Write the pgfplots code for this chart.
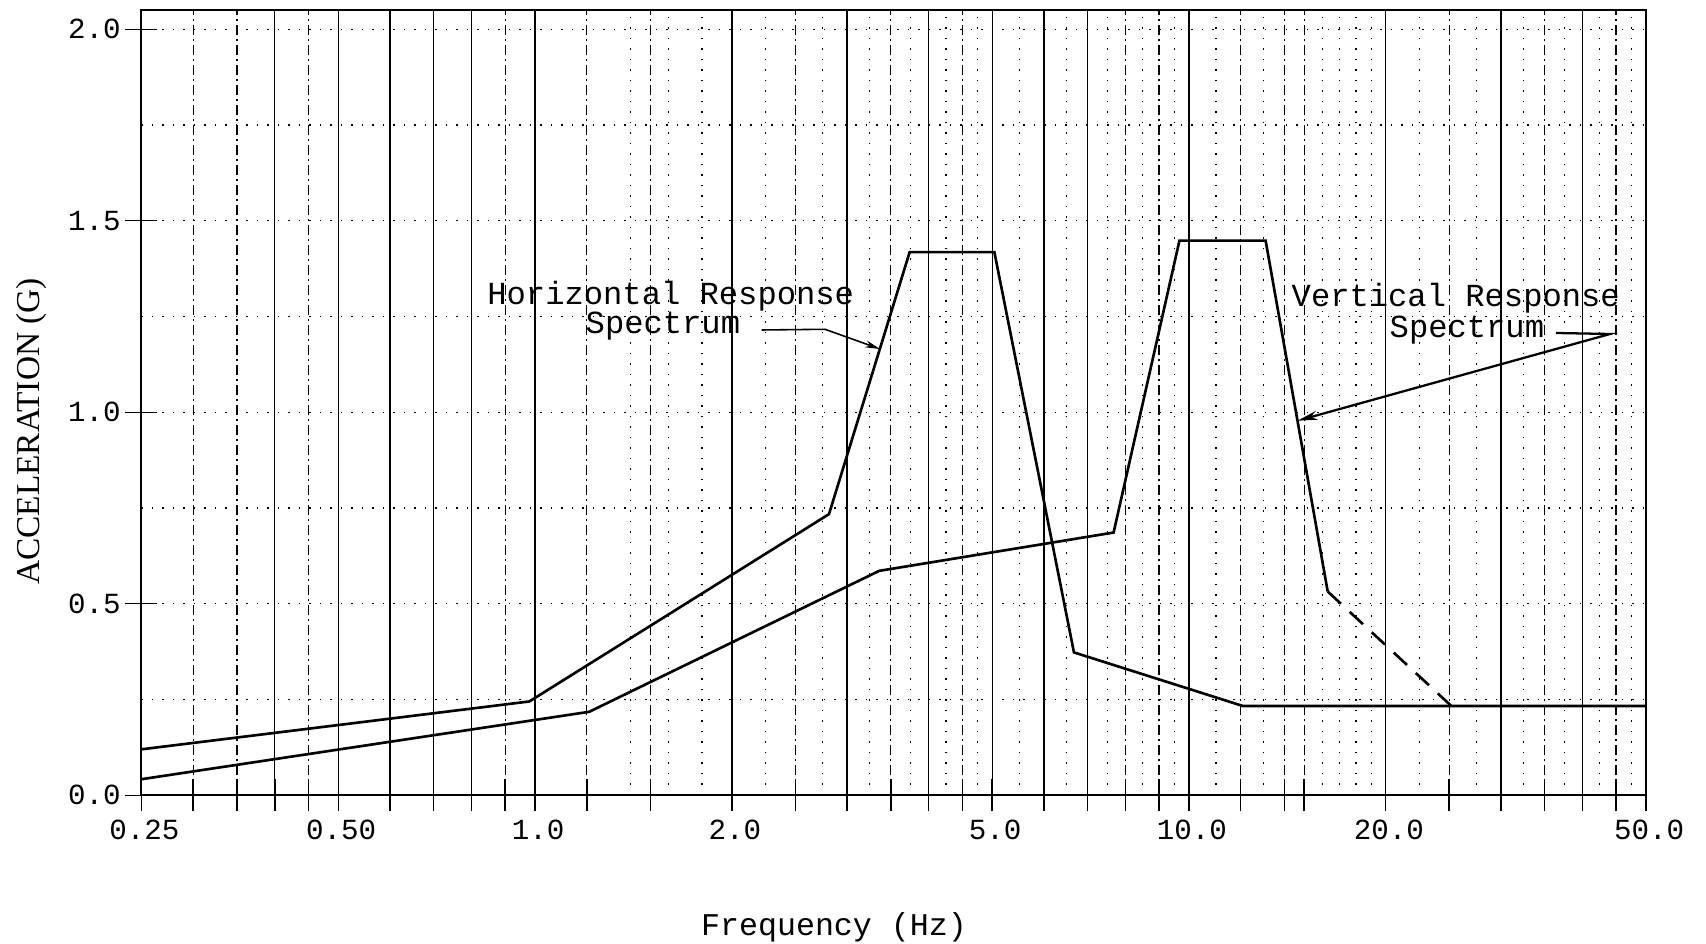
\documentclass[border=0pt]{standalone}
\usepackage{fontspec}
\setmainfont{Liberation Serif}
\newfontfamily\mono{Liberation Mono}
\usepackage{pgfplots}
\pgfplotsset{compat=1.18}
\usetikzlibrary{arrows.meta}

\begin{document}
\begin{tikzpicture}
\useasboundingbox (0,0) rectangle (17.06,9.44);
% ---- texture grid of the graph paper (dotted) ----
\begin{axis}[at={(1.414cm,1.487cm)}, anchor=south west, scale only axis,
  width=15.046cm, height=7.852cm,
  xmode=log, xmin=0.25, xmax=50, ymin=0, ymax=2.05,
  axis line style={draw=none}, major tick length=0pt, minor tick length=0pt,
  xtick={1.4,1.6,1.8,2.25,2.75,3.25,3.75,4.25,4.75,5.5,6.5,7.5,8.5,9.5,11,13,16,17,18,19,22.5,27.5,32.5,37.5,42.5,47.5},
  ytick={0.25,0.5,0.75,1.0,1.25,1.5,1.75,2.0},
  xticklabels={}, yticklabels={},
  xmajorgrids, ymajorgrids,
  major grid style={black, line width=0.35pt, dash pattern=on 0.015cm off 0.09cm},
]
\end{axis}
% ---- main axis ----
\begin{axis}[at={(1.414cm,1.487cm)}, anchor=south west, scale only axis,
  width=15.046cm, height=7.852cm,
  xmode=log, xmin=0.25, xmax=50, ymin=0, ymax=2.05,
  axis line style={black, line width=0.6pt},
  tick pos=left, tick align=center,
  major tick length=0.32cm, minor tick length=0.32cm,
  tick style={black, line width=0.4pt},
  xtick={0.25,0.5,1,2,5,10,20,50},
  xticklabels={0.25,0.50,1.0,2.0,5.0,10.0,20.0,50.0},
  minor xtick={0.4,0.6,0.7,0.8,3,4,6,7,30,40},
  extra x ticks={0.3,0.35,0.45,0.9,1.2,1.5,2.5,3.5,4.5,8,9,12,14,15,25,35,45},
  extra x tick labels={},
  extra x tick style={xmajorgrids=true, major grid style={black, line width=0.35pt, dash pattern=on 0.1cm off 0.04cm on 0.02cm off 0.04cm}},
  xmajorgrids, xminorgrids,
  major grid style={black, line width=0.35pt},
  minor grid style={black, line width=0.35pt},
  ytick={0,0.5,1,1.5,2},
  yticklabels={0.0,0.5,1.0,1.5,2.0},
  tick label style={font=\mono\fontsize{8.3}{10}\selectfont},
  xticklabel style={anchor=base, yshift=-0.28cm, xshift=0.03cm},
  yticklabel style={anchor=east, xshift=0.075cm},
]
% Horizontal response spectrum
\addplot[black, line width=0.75pt] coordinates {
  (0.25,0.120) (0.98,0.245) (2.815,0.734) (3.74,1.418) (5.04,1.418)
  (6.67,0.373) (12.1,0.233) (50,0.233)};
% Vertical response spectrum
\addplot[black, line width=0.75pt] coordinates {
  (0.25,0.042) (1.21,0.218) (3.36,0.586) (7.67,0.686) (9.67,1.448)
  (13.1,1.448) (16.3,0.532)};
\addplot[black, line width=0.75pt, dash pattern=on 0.18cm off 0.12cm] coordinates {
  (16.3,0.532) (25.2,0.233)};
\end{axis}
% ---- annotations ----
\node[font=\mono\fontsize{9.15}{11}\selectfont, anchor=base west, inner sep=0pt] at (4.867,6.397) {Horizontal Response};
\node[font=\mono\fontsize{9.15}{11}\selectfont, anchor=base west, inner sep=0pt] at (5.85,6.107) {Spectrum};
\draw[line width=0.45pt, -{Stealth[length=0.15cm,width=0.07cm]}] (7.617,6.14) -- (8.25,6.147) -- (8.80,5.95);
\node[font=\mono\fontsize{9.15}{11}\selectfont, anchor=base west, inner sep=0pt] at (12.91,6.373) {Vertical Response};
\node[font=\mono\fontsize{9.15}{11}\selectfont, anchor=base west, inner sep=0pt] at (13.89,6.06) {Spectrum};
\draw[line width=0.65pt, -{Stealth[length=0.2cm,width=0.09cm]}] (15.56,6.11) -- (16.10,6.10) -- (12.976,5.233);
% ---- axis titles ----
\node[font=\mono\fontsize{9}{11}\selectfont, anchor=base, inner sep=0pt] at (8.34,0.08) {Frequency (Hz)};
\node[font=\fontsize{9.5}{11}\selectfont, rotate=90, anchor=center, inner sep=0pt] at (0.31,5.125) {ACCELERATION (G)};
\end{tikzpicture}
\end{document}
